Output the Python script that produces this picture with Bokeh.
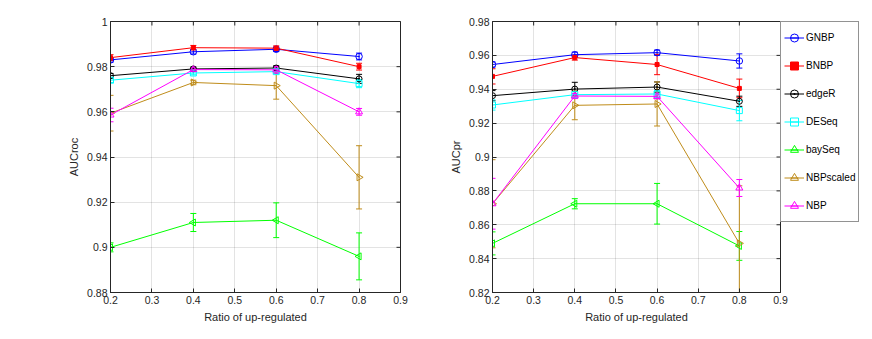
import numpy as np
from bokeh.plotting import figure
from bokeh.layouts import row
from bokeh.models import (ColumnDataSource, Whisker, TeeHead, FixedTicker, CustomJSTickFormatter,
                          Range1d, Legend, LegendItem)
from bokeh.embed import file_html
from bokeh.resources import INLINE

ratios = [0.2, 0.4, 0.6, 0.8]
x_ticks = [0.2, 0.3, 0.4, 0.5, 0.6, 0.7, 0.8, 0.9]
roc_ticks = [0.88, 0.90, 0.92, 0.94, 0.96, 0.98, 1.0]
pr_ticks = [0.82, 0.84, 0.86, 0.88, 0.90, 0.92, 0.94, 0.96, 0.98]

methods = ["GNBP", "BNBP", "edgeR", "DESeq", "baySeq", "NBPscaled", "NBP"]

# AUCroc means and error half-widths
roc_GNBP = [0.9830, 0.9866, 0.9877, 0.9845]
roc_GNBP_err = [0.0010, 0.0010, 0.0010, 0.0015]
roc_BNBP = [0.9840, 0.9884, 0.9882, 0.9800]
roc_BNBP_err = [0.0013, 0.0010, 0.0010, 0.0015]
roc_edgeR = [0.9760, 0.9790, 0.9794, 0.9746]
roc_edgeR_err = [0.0010, 0.0008, 0.0010, 0.0020]
roc_DESeq = [0.9740, 0.9772, 0.9778, 0.9725]
roc_DESeq_err = [0.0010, 0.0008, 0.0008, 0.0018]
roc_baySeq = [0.9000, 0.9110, 0.9120, 0.8960]
roc_baySeq_err = [0.0020, 0.0040, 0.0077, 0.0104]
roc_NBPscaled = [0.9594, 0.9730, 0.9716, 0.9310]
roc_NBPscaled_err = [0.0079, 0.0010, 0.0060, 0.0140]
roc_NBP = [0.9586, 0.9787, 0.9786, 0.9600]
roc_NBP_err = [0.0030, 0.0008, 0.0015, 0.0015]

# AUCpr means and error half-widths
pr_GNBP = [0.9546, 0.9604, 0.9616, 0.9567]
pr_GNBP_err = [0.0015, 0.0015, 0.0015, 0.0042]
pr_BNBP = [0.9476, 0.9587, 0.9546, 0.9405]
pr_BNBP_err = [0.0045, 0.0015, 0.0060, 0.0055]
pr_edgeR = [0.9362, 0.9401, 0.9413, 0.9329]
pr_edgeR_err = [0.0030, 0.0040, 0.0030, 0.0030]
pr_DESeq = [0.9307, 0.9368, 0.9372, 0.9274]
pr_DESeq_err = [0.0030, 0.0020, 0.0020, 0.0060]
pr_baySeq = [0.8490, 0.8724, 0.8724, 0.8475]
pr_baySeq_err = [0.0068, 0.0030, 0.0120, 0.0085]
pr_NBPscaled = [0.8724, 0.9305, 0.9313, 0.8490]
pr_NBPscaled_err = [0.0260, 0.0085, 0.0130, 0.0340]
pr_NBP = [0.8724, 0.9360, 0.9358, 0.8817]
pr_NBP_err = [0.0150, 0.0015, 0.0015, 0.0050]

roc_data = {"GNBP": (roc_GNBP, roc_GNBP_err), "BNBP": (roc_BNBP, roc_BNBP_err),
            "edgeR": (roc_edgeR, roc_edgeR_err), "DESeq": (roc_DESeq, roc_DESeq_err),
            "baySeq": (roc_baySeq, roc_baySeq_err), "NBPscaled": (roc_NBPscaled, roc_NBPscaled_err),
            "NBP": (roc_NBP, roc_NBP_err)}
pr_data = {"GNBP": (pr_GNBP, pr_GNBP_err), "BNBP": (pr_BNBP, pr_BNBP_err),
           "edgeR": (pr_edgeR, pr_edgeR_err), "DESeq": (pr_DESeq, pr_DESeq_err),
           "baySeq": (pr_baySeq, pr_baySeq_err), "NBPscaled": (pr_NBPscaled, pr_NBPscaled_err),
           "NBP": (pr_NBP, pr_NBP_err)}

styles = {
    "GNBP": dict(color="#0000ff", marker="circle", size=6.5, fill=False, angle=0.0),
    "BNBP": dict(color="#ff0000", marker="square", size=4, fill=True, angle=0.0),
    "edgeR": dict(color="#000000", marker="circle_dot", size=6, fill=False, angle=0.0),
    "DESeq": dict(color="#00ffff", marker="square", size=6, fill=False, angle=0.0),
    "baySeq": dict(color="#00ff00", marker="triangle", size=7, fill=False, angle=np.pi / 2),
    "NBPscaled": dict(color="#bf8c1a", marker="triangle", size=7, fill=False, angle=-np.pi / 2),
    "NBP": dict(color="#ff00ff", marker="triangle", size=7, fill=False, angle=0.0),
}

FONT = "Liberation Sans"
TXT = "#262626"


def fmt():
    return CustomJSTickFormatter(code="return Number(tick.toFixed(2)).toString();")


def make_fig(data, yr, yticks, ylabel, fw, min_left, min_right, with_legend):
    p = figure(frame_width=fw, frame_height=271,
               x_range=Range1d(0.2, 0.9), y_range=Range1d(*yr),
               output_backend="svg", toolbar_location=None,
               min_border_left=min_left, min_border_right=min_right,
               min_border_top=21, min_border_bottom=31)
    p.outline_line_color = TXT
    p.outline_line_width = 1
    p.background_fill_color = "white"
    p.border_fill_color = "white"
    p.xaxis.ticker = FixedTicker(ticks=x_ticks)
    p.yaxis.ticker = FixedTicker(ticks=yticks)
    p.xaxis.formatter = fmt()
    p.yaxis.formatter = fmt()
    p.xaxis.axis_label = "Ratio of up-regulated"
    p.yaxis.axis_label = ylabel
    for ax in (p.xaxis[0], p.yaxis[0]):
        ax.major_tick_in = 4
        ax.major_tick_out = 0
        ax.minor_tick_in = 0
        ax.minor_tick_out = 0
        ax.axis_line_color = TXT
        ax.major_tick_line_color = TXT
        ax.major_label_text_color = TXT
        ax.major_label_text_font = FONT
        ax.major_label_text_font_size = "10.5px"
        ax.axis_label_text_font = FONT
        ax.axis_label_text_font_size = "11px"
        ax.axis_label_text_font_style = "normal"
        ax.axis_label_text_color = TXT
        ax.major_label_standoff = 3
        ax.axis_label_standoff = 4
    p.grid.grid_line_color = TXT
    p.grid.grid_line_alpha = 0.13
    p.xgrid.ticker = FixedTicker(ticks=x_ticks)
    p.ygrid.ticker = FixedTicker(ticks=yticks)

    # box ticks along the top and right edges (clipped to the frame)
    p.scatter(x=x_ticks, y=[yr[1]] * len(x_ticks), marker="dash", angle=np.pi / 2,
              size=8, line_color=TXT, line_width=1)
    p.scatter(x=[0.9] * len(yticks), y=yticks, marker="dash", size=8,
              line_color=TXT, line_width=1)

    items = []
    for m in methods:
        ys, es = data[m]
        st = styles[m]
        c = st["color"]
        lower = [y - e for y, e in zip(ys, es)]
        upper = [y + e for y, e in zip(ys, es)]
        src = ColumnDataSource(dict(x=ratios, y=ys, lower=lower, upper=upper))
        w = Whisker(base="x", lower="lower", upper="upper", source=src,
                    line_color=c, line_width=1,
                    upper_head=TeeHead(size=6, line_color=c, line_width=1),
                    lower_head=TeeHead(size=6, line_color=c, line_width=1))
        p.add_layout(w)
        bar = p.scatter("x", "y", source=src, marker="dash", angle=np.pi / 2, size=1,
                        line_color=c, line_width=1)
        ln = p.line("x", "y", source=src, line_color=c, line_width=1)
        sc = p.scatter("x", "y", source=src, marker=st["marker"], size=st["size"],
                       angle=st["angle"], line_color=c, line_width=1,
                       fill_color=c if st["fill"] else None)
        items.append(LegendItem(label=m, renderers=[bar, ln, sc]))

    if with_legend:
        lg = Legend(items=items, location="top_left", orientation="vertical")
        lg.label_text_font = FONT
        lg.label_text_font_size = "10px"
        lg.label_text_color = "#000000"
        lg.glyph_width = 20
        lg.glyph_height = 25
        lg.spacing = 3
        lg.padding = 3
        lg.margin = 0
        lg.label_standoff = 2
        lg.border_line_color = TXT
        lg.border_line_width = 1
        lg.background_fill_alpha = 1
        p.add_layout(lg, "right")
    return p


p1 = make_fig(roc_data, (0.88, 1.0), roc_ticks, "AUCroc", 290, 110, 20, False)
p2 = make_fig(pr_data, (0.82, 0.98), pr_ticks, "AUCpr", 288, 72, 0, True)

layout = row(p1, p2, spacing=0)
open("out.html", "w").write(file_html(layout, INLINE))
